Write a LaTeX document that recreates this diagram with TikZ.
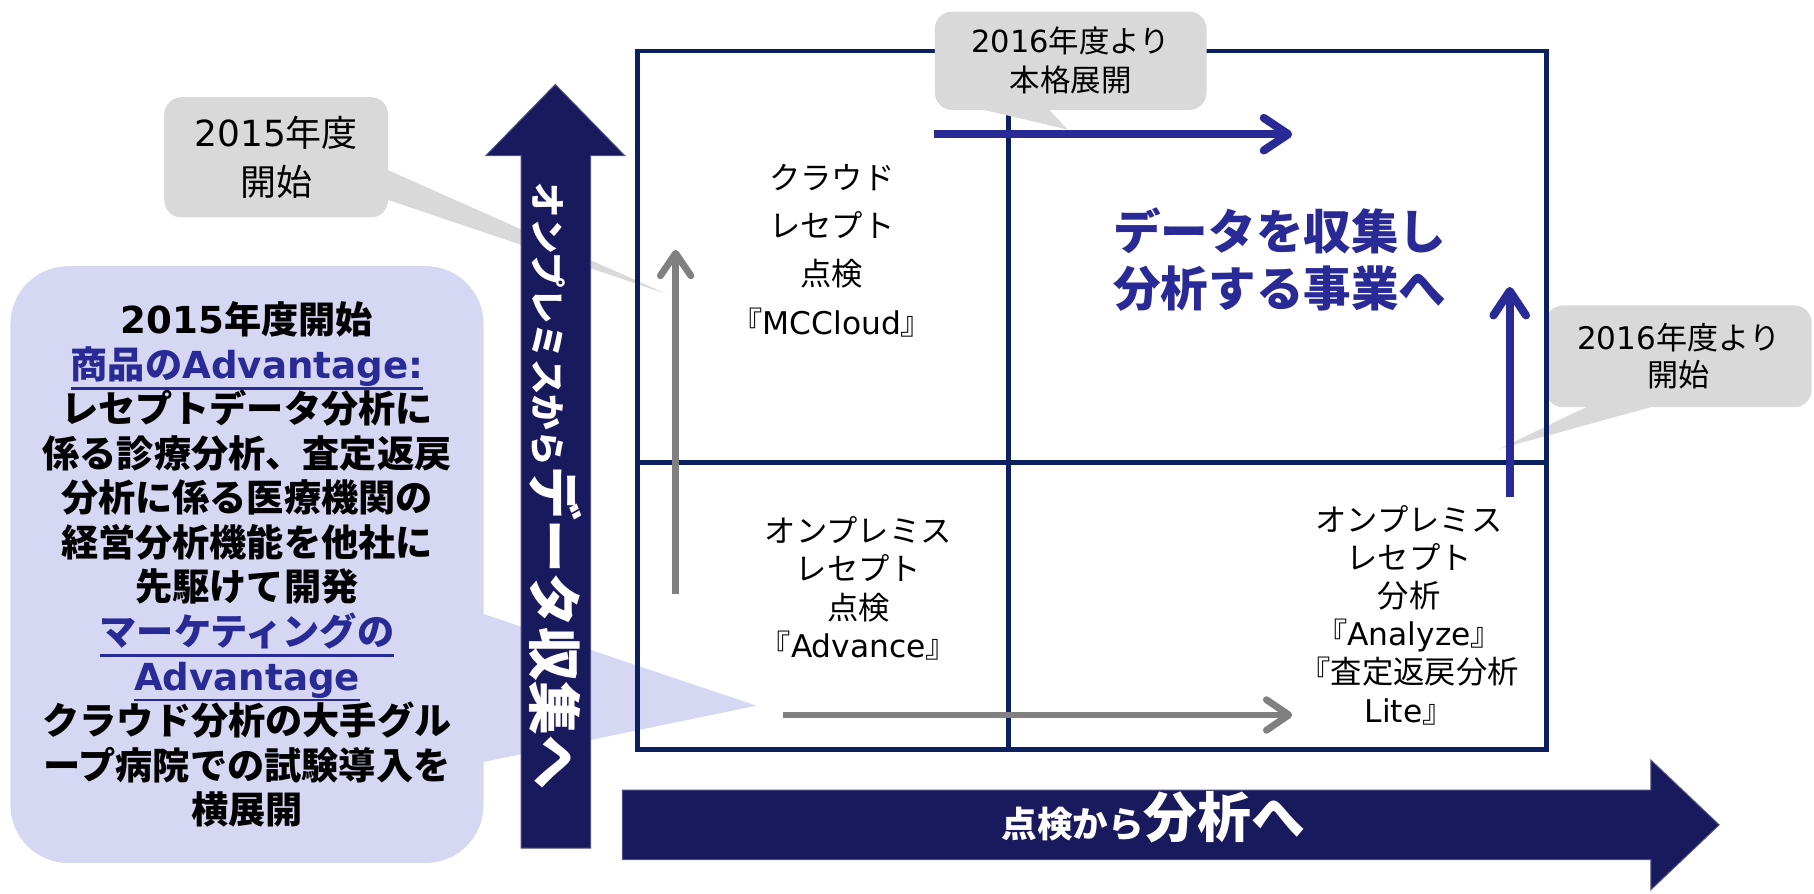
\documentclass[tikz,border=0pt]{standalone}
\usepackage{fontspec}
\setmainfont{Noto Sans CJK JP}
\newfontfamily\vd{DejaVu Sans}
\usetikzlibrary{arrows.meta}
\definecolor{navyfill}{RGB}{25,25,94}
\definecolor{gridblue}{RGB}{12,32,96}
\definecolor{accentblue}{RGB}{42,42,150}
\definecolor{lavender}{RGB}{214,215,243}
\definecolor{calloutgray}{RGB}{217,217,217}
\definecolor{arrowgray}{RGB}{128,128,128}
\newcommand{\thickul}[1]{\setbox0\hbox{#1}\rlap{\rule[-0.3em]{\wd0}{1.1pt}}\box0}

\begin{document}
\begin{tikzpicture}[x=0.02cm,y=-0.02cm,
  quadline/.style={draw=gridblue,line width=2.3pt},
  bigarrow/.style={fill=navyfill,draw=navyfill!75!white,line width=0.5pt},
  grayflow/.style={draw=arrowgray,line width=3.4pt,-{Straight Barb[length=11pt,width=15pt,round]}},
  blueflow/.style={draw=accentblue,line width=4pt,-{Straight Barb[length=12pt,width=16pt,round]}},
  graybubble/.style={fill=calloutgray,rounded corners=0.3cm,align=center,inner sep=0pt},
  qtext/.style={align=center,inner sep=0pt,font=\fontsize{15.4}{18.8}\selectfont}]
  \useasboundingbox (0,0) rectangle (1568,772);

  % left callout
  \node[fill=lavender,rounded corners=1cm,minimum width=8.18cm,minimum height=10.32cm,
        align=center,inner sep=0pt,font=\bfseries\fontsize{18.3}{21.9}\selectfont] (advbox) at (213.5,488)
    {{\vd 2015}年度開始\\
     \textcolor{accentblue}{\thickul{商品の{\vd Advantage:}}}\\
     レセプトデータ分析に\\
     係る診療分析、査定返戻\\
     分析に係る医療機関の\\
     経営分析機能を他社に\\
     先駆けて開発\\
     \textcolor{accentblue}{\thickul{マーケティングの}}\\
     \textcolor{accentblue}{\thickul{{\vd Advantage}}}\\
     クラウド分析の大手グル\\
     ープ病院での試験導入を\\
     横展開};
  \fill[lavender] (416,530) -- (654,610) -- (416,659) -- cycle;

  % gray callouts behind the grid
  \node[graybubble,minimum width=3.87cm,minimum height=2.08cm,font=\fontsize{17.7}{24}\selectfont]
    (startA) at (238.7,136) {{\vd 2015}年度\\開始};
  \fill[calloutgray] (333,146) -- (576,254) -- (333,172) -- cycle;
  \node[graybubble,minimum width=4.6cm,minimum height=1.76cm,font=\fontsize{15.3}{18.2}\selectfont]
    (startC) at (1451,308) {{\vd 2016}年度より\\開始};
  \fill[calloutgray] (1375,350) -- (1296,388) -- (1434,350) -- cycle;

  % grid
  \draw[quadline] (551,44) rectangle (1337,648);
  \draw[quadline] (872,44) -- (872,648);
  \draw[quadline] (551,400) -- (1337,400);

  \node[graybubble,minimum width=4.7cm,minimum height=1.7cm,font=\fontsize{15}{19.3}\selectfont]
    (startB) at (925.5,52.5) {{\vd 2016}年度より\\本格展開};
  \fill[calloutgray] (846,94) -- (923,112) -- (906,94) -- cycle;

  % axis arrows
  \filldraw[bigarrow] (450.5,733) -- (450.5,134.5) -- (420,134.5) -- (480,73)
    -- (540,134.5) -- (510.5,134.5) -- (510.5,733) -- cycle;
  \filldraw[bigarrow] (538,683) -- (1427,683) -- (1427,657) -- (1486,713)
    -- (1427,769) -- (1427,743) -- (538,743) -- cycle;
  \node[text=white,font=\bfseries,rotate=-90,inner sep=0pt] (vlabel) at (480,420)
    {{\fontsize{17.5}{20}\selectfont オンプレミスから}{\fontsize{26.5}{30}\selectfont データ収集へ}};
  \node[text=white,font=\bfseries,inner sep=0pt] (hlabel) at (997,706)
    {{\fontsize{17.5}{20}\selectfont 点検から}{\fontsize{26.5}{30}\selectfont 分析へ}};

  % moves
  \draw[grayflow] (584,513) -- (584,216);
  \draw[grayflow] (677,618) -- (1117,618);
  \draw[blueflow] (807,116) -- (1117,116);
  \draw[blueflow] (1305,430) -- (1305,248);

  % quadrant texts
  \node[qtext,font=\fontsize{15.4}{23.7}\selectfont] (cloudtxt) at (719,216.5)
    {クラウド\\レセプト\\点検\\『{\vd MCCloud}』};
  \node[qtext] (advancetxt) at (742,508.5)
    {オンプレミス\\レセプト\\点検\\『{\vd Advance}』};
  \node[qtext] (analyzetxt) at (1218,531.5)
    {オンプレミス\\レセプト\\分析\\『{\vd Analyze}』\\『査定返戻分析\\{\vd Lite}』};
  \node[anchor=west,align=left,inner sep=0pt,text=accentblue,
        font=\bfseries\fontsize{23.4}{27.9}\selectfont] (goaltxt) at (962,224.5)
    {データを収集し\\分析する事業へ};
\end{tikzpicture}
\end{document}
